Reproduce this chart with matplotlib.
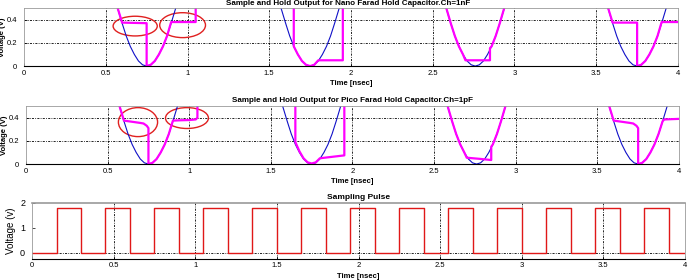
import matplotlib
matplotlib.use("Agg")
import matplotlib.pyplot as plt
from matplotlib.patches import Ellipse

plt.rcParams["font.family"] = ["Liberation Sans", "DejaVu Sans"]

# input signal: one dip shape (offset from dip centre, volts)
dip_centres = [0.75, 1.75, 2.76, 3.75]
dip_dt = [-0.2, -0.18, -0.15, -0.125, -0.1, -0.075, -0.05, -0.025, 0.0,
          0.025, 0.05, 0.075, 0.1, 0.125, 0.15, 0.18, 0.2]
dip_v = [0.62, 0.51, 0.37, 0.26, 0.17, 0.10, 0.044, 0.011, 0.0,
         0.011, 0.044, 0.10, 0.17, 0.26, 0.37, 0.51, 0.62]

# sample and hold output, Ch = 1nF
nf_t = [0.50, 0.55, 0.575, 0.60, 0.75, 0.75, 0.775, 0.80, 0.825, 0.85, 0.875, 0.90,
        1.05, 1.05, 1.65, 1.65, 1.675, 1.70, 1.725, 1.75, 1.775, 1.80, 1.95, 1.95,
        2.55, 2.585, 2.61, 2.635, 2.66, 2.685, 2.70, 2.85, 2.85, 2.86, 2.885, 2.91,
        2.935, 2.96, 3.45, 3.55, 3.575, 3.60, 3.75, 3.75, 3.775, 3.80, 3.825, 3.85,
        3.875, 3.90, 4.0]
nf_v = [0.80, 0.62, 0.49, 0.375, 0.37, 0.0, 0.011, 0.044, 0.10, 0.17, 0.26, 0.38,
        0.38, 0.80, 0.80, 0.17, 0.10, 0.044, 0.011, 0.0, 0.011, 0.05, 0.05, 0.80,
        0.80, 0.49, 0.37, 0.26, 0.17, 0.10, 0.05, 0.05, 0.155, 0.17, 0.26, 0.37,
        0.49, 0.62, 0.80, 0.62, 0.49, 0.375, 0.375, 0.0, 0.011, 0.044, 0.10, 0.17,
        0.26, 0.38, 0.38]

# sample and hold output, Ch = 1pF (droop during hold)
pf_t = [0.50, 0.55, 0.575, 0.60, 0.65, 0.70, 0.72, 0.74, 0.75, 0.75, 0.775, 0.80,
        0.825, 0.85, 0.875, 0.90, 0.95, 1.00, 1.04, 1.05, 1.05, 1.65, 1.65, 1.675,
        1.70, 1.725, 1.75, 1.775, 1.80, 1.95, 1.95, 2.55, 2.585, 2.61, 2.635, 2.66,
        2.685, 2.70, 2.78, 2.85, 2.85, 2.86, 2.885, 2.91, 2.935, 2.96, 3.45, 3.55,
        3.575, 3.60, 3.65, 3.70, 3.72, 3.74, 3.75, 3.75, 3.775, 3.80, 3.825, 3.85,
        3.875, 3.90, 3.91, 4.0]
pf_v = [0.80, 0.62, 0.49, 0.375, 0.365, 0.355, 0.35, 0.33, 0.31, 0.0, 0.011, 0.044,
        0.10, 0.17, 0.26, 0.375, 0.378, 0.38, 0.385, 0.40, 0.80, 0.80, 0.19, 0.11,
        0.05, 0.015, 0.005, 0.015, 0.05, 0.075, 0.80, 0.80, 0.49, 0.37, 0.26, 0.17,
        0.10, 0.055, 0.045, 0.035, 0.15, 0.17, 0.26, 0.37, 0.49, 0.62, 0.80, 0.62,
        0.49, 0.375, 0.365, 0.355, 0.35, 0.33, 0.31, 0.0, 0.011, 0.044, 0.10, 0.17,
        0.26, 0.37, 0.385, 0.39]

# sampling pulse
pulse_rise = [0.15, 0.45, 0.75, 1.05, 1.35, 1.65, 1.95, 2.25, 2.55, 2.85, 3.15, 3.45, 3.75]
pulse_fall = [0.30, 0.60, 0.90, 1.20, 1.50, 1.80, 2.10, 2.40, 2.70, 3.00, 3.30, 3.60, 3.90]
pulse_high = 1.8

# red highlight ellipses (centre t, centre v, width, height)
nf_marks = [(0.68, 0.345, 0.27, 0.17), (0.97, 0.353, 0.28, 0.215)]
pf_marks = [(0.686, 0.362, 0.24, 0.25), (0.986, 0.397, 0.263, 0.18)]

xticks = [0, 0.5, 1, 1.5, 2, 2.5, 3, 3.5, 4]
xticklabels = ["0", "0.5", "1", "1.5", "2", "2.5", "3", "3.5", "4"]

fig = plt.figure(figsize=(6.9, 2.8), dpi=100)
ax1 = fig.add_axes([0.0348, 0.764, 0.9478, 0.207])
ax2 = fig.add_axes([0.0377, 0.414, 0.9463, 0.207])
ax3 = fig.add_axes([0.0464, 0.075, 0.9464, 0.200])

grid_kw = dict(color="black", lw=0.6, ls=(0, (2.5, 1.5, 1, 1.5)))


def style(ax):
    ax.set_xlim(0, 4)
    ax.set_xticks(xticks)
    ax.set_xticklabels(xticklabels)
    ax.tick_params(direction="in", length=2, width=0.5, labelsize=5.5, pad=2.5)
    ax.tick_params(axis="y", pad=5)
    for s in ("top", "right", "left"):
        ax.spines[s].set_color("#9a9a9a")
        ax.spines[s].set_linewidth(0.6)
    ax.spines["bottom"].set_linewidth(0.8)
    for x in xticks[1:-1]:
        ax.axvline(x, zorder=0, **grid_kw)


for ax, t, v, marks, title in (
        (ax1, nf_t, nf_v, nf_marks, None),
        (ax2, pf_t, pf_v, pf_marks,
         "Sample and Hold Output for Pico Farad Hold Capacitor.Ch=1pF")):
    style(ax)
    for c in dip_centres:
        ax.plot([c + d for d in dip_dt], dip_v, color="#1010c8", lw=0.8)
    ax.plot(t, v, color="#ff00ff", lw=1.6)
    ax.set_ylim(0, 0.5)
    ax.set_yticks([0, 0.2, 0.4])
    ax.set_yticklabels(["0", "0.2", "0.4"])
    for y in (0.2, 0.4):
        ax.axhline(y, zorder=0, **grid_kw)
    for cx, cy, w, h in marks:
        ax.add_patch(Ellipse((cx, cy), w, h, fill=False, ec="#e02020",
                             lw=1.0, clip_on=False))
    ax.set_ylabel("Voltage (V)", fontsize=5.5, fontweight="bold")
    ax.yaxis.set_label_coords(-0.027, 0.5)
    ax.set_xlabel("Time [nsec]", fontsize=5.5, fontweight="bold")
    ax.xaxis.set_label_coords(0.5, -0.24)
    if title:
        ax.set_title(title, fontsize=5.8, fontweight="bold", pad=3)

fig.text(0.505, 0.982, "Sample and Hold Output for Nano Farad Hold Capacitor.Ch=1nF",
         ha="center", va="baseline", fontsize=5.8, fontweight="bold")

# sampling pulse panel
style(ax3)
pt, pv = [0.0], [0.0]
for r, f in zip(pulse_rise, pulse_fall):
    pt += [r, r, f, f]
    pv += [0.0, pulse_high, pulse_high, 0.0]
pt.append(4.0)
pv.append(0.0)
ax3.plot(pt, pv, color="#e01818", lw=1.0)
ax3.set_ylim(-0.25, 2)
ax3.set_yticks([0, 1, 2])
ax3.tick_params(axis="y", labelsize=6.5)
ax3.axhline(0, zorder=0, **grid_kw)
ax3.spines["top"].set_linewidth(1.2)
ax3.set_title("Sampling Pulse", fontsize=6, fontweight="bold", pad=3)
ax3.set_ylabel("Voltage (v)", fontsize=7)
ax3.yaxis.set_label_coords(-0.024, 0.5)
ax3.set_xlabel("Time [nsec]", fontsize=5.5, fontweight="bold")
ax3.xaxis.set_label_coords(0.5, -0.25)

fig.savefig("out.png", dpi=100)
